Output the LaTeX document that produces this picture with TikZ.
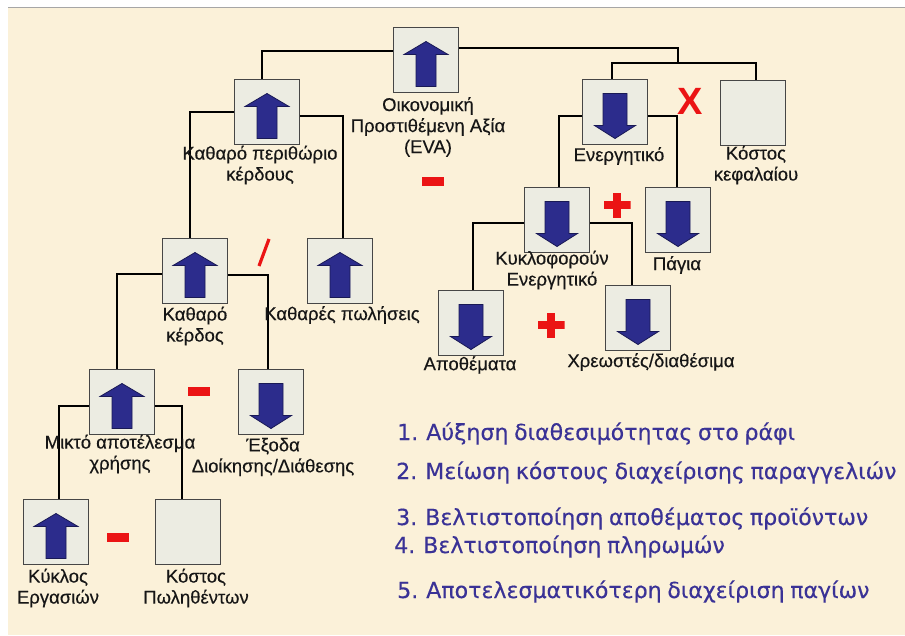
\documentclass[tikz,border=0pt]{standalone}
\usepackage{fontspec}
\setmainfont{Liberation Sans}[FakeBold=0.35]
\newfontfamily\listfont{DejaVu Sans}[FakeBold=0.35,WordSpace=0.8]
\newfontfamily\signfont{Liberation Sans Bold}
\usetikzlibrary{calc}

\definecolor{paper}{RGB}{251,241,217}
\definecolor{boxfill}{RGB}{236,236,226}
\definecolor{boxline}{RGB}{70,70,70}
\definecolor{arrowblue}{RGB}{44,44,140}
\definecolor{arrowedge}{RGB}{25,25,85}
\definecolor{signred}{RGB}{235,20,20}
\definecolor{listblue}{RGB}{58,50,150}
\definecolor{labelgray}{RGB}{22,22,22}

% block arrows drawn inside a card, relative to its centre
\newcommand\risearrow[1]{\path[arrowbody,shift={(#1.center)}]
  (0,-18.5) -- (22,-5.5) -- (10,-5.5) -- (10,26.5) -- (-10,26.5) -- (-10,-5.5) -- (-22,-5.5) -- cycle;}
\newcommand\fallarrow[1]{\path[arrowbody,shift={(#1.center)}]
  (0,26.5) -- (20.5,13.5) -- (12,13.5) -- (12,-18.5) -- (-12,-18.5) -- (-12,13.5) -- (-20.5,13.5) -- cycle;}

\begin{document}
\begin{tikzpicture}[x=1pt,y=-1pt,
  card/.style={draw=boxline,line width=1.3pt,fill=boxfill,minimum width=65pt,minimum height=65pt,inner sep=0pt},
  link/.style={line width=2.8pt,black},
  label/.style={font=\fontsize{18.5}{21}\selectfont,text=labelgray,align=center,inner sep=0pt},
  item/.style={font=\listfont\fontsize{22.1}{26}\selectfont,text=listblue,anchor=base west,inner sep=0pt},
  arrowbody/.style={fill=arrowblue,draw=arrowedge,line width=0.8pt,line join=miter},
  minus/.style={fill=signred,minimum width=22pt,minimum height=9pt,inner sep=0pt},
  plus/.style={minimum width=27pt,minimum height=25pt,inner sep=0pt,
    path picture={
      \fill[signred] ([yshift=4pt]path picture bounding box.west) rectangle ([yshift=-4pt]path picture bounding box.east);
      \fill[signred] ([xshift=-4pt]path picture bounding box.north) rectangle ([xshift=4pt]path picture bounding box.south);}},
  ]

\useasboundingbox (0,0) rectangle (905,635);
\fill[white] (0,0) rectangle (905,635);
\fill[paper] (8,8) rectangle (905,635);
\draw[gray!70,line width=1.2pt] (8,7.5) -- (905,7.5);

% cards
\node[card] (eva)     at (426,60)  {};
\node[card] (margin)  at (267,112) {};
\node[card] (assets)  at (615,112) {};
\node[card] (capcost) at (753,113) {};
\node[card] (current) at (557,220) {};
\node[card] (fixed)   at (678,220) {};
\node[card] (stock)   at (471,323) {};
\node[card] (debtors) at (638,318) {};
\node[card] (profit)  at (195,271) {};
\node[card] (sales)   at (340,271) {};
\node[card] (gross)   at (122,402) {};
\node[card] (admin)   at (271,402) {};
\node[card] (turnover) at (56,532) {};
\node[card] (cogs)    at (188,532) {};

% arrows
\risearrow{eva}
\risearrow{margin}
\fallarrow{assets}
\fallarrow{current}
\fallarrow{fixed}
\fallarrow{stock}
\fallarrow{debtors}
\risearrow{profit}
\risearrow{sales}
\risearrow{gross}
\fallarrow{admin}
\risearrow{turnover}

% connectors
\coordinate (split) at (678,63);
\draw[link] ([yshift=9pt]eva.west) -| ([xshift=-5pt]margin.north);
\draw[link] ([yshift=12pt]eva.east) -| (split);
\draw[link] ([xshift=-3pt]assets.north) |- (split) -| ([xshift=3pt]capcost.north);
\draw[link] (margin.west) -| ([xshift=-5pt]profit.north);
\draw[link] ([yshift=-4pt]margin.east) -| ([xshift=3pt]sales.north);
\draw[link] ([yshift=-4pt]assets.west) -| ([xshift=2pt]current.north);
\draw[link] ([yshift=-4pt]assets.east) -| ([xshift=-1pt]fixed.north);
\draw[link] ([yshift=-3pt]current.west) -| ([xshift=2pt]stock.north);
\draw[link] ([yshift=-3pt]current.east) -| ([xshift=-6pt]debtors.north);
\draw[link] ([yshift=-3pt]profit.west) -| ([xshift=-5pt]gross.north);
\draw[link] ([yshift=-4pt]profit.east) -| ([xshift=-3pt]admin.north);
\draw[link] ([yshift=-4pt]gross.west) -| ([xshift=3pt]turnover.north);
\draw[link] ([yshift=-4pt]gross.east) -| ([xshift=-6pt]cogs.north);

% labels
\node[label] (evaL)     at (428,127) {Οικονομική\\Προστιθέμενη Αξία\\(EVA)};
\node[label] (marginL)  at (260,165) {Καθαρό περιθώριο\\κέρδους};
\node[label] (assetsL)  at (619,156) {Ενεργητικό};
\node[label] (capcostL) at (756,165) {Κόστος\\κεφαλαίου};
\node[label] (currentL) at (552,270) {Κυκλοφορούν\\Ενεργητικό};
\node[label] (fixedL)   at (677,265) {Πάγια};
\node[label] (stockL)   at (470,365) {Αποθέματα};
\node[label] (debtorsL) at (651,362) {Χρεωστές/διαθέσιμα};
\node[label] (profitL)  at (195,326) {Καθαρό\\κέρδος};
\node[label] (salesL)   at (342,315) {Καθαρές πωλήσεις};
\node[label] (grossL)   at (120,454) {Μικτό αποτέλεσμα\\χρήσης};
\node[label] (adminL)   at (273,457) {Έξοδα\\Διοίκησης/Διάθεσης};
\node[label] (turnoverL) at (58,588) {Κύκλος\\Εργασιών};
\node[label] (cogsL)    at (196,588) {Κόστος\\Πωληθέντων};

% operators
\node[minus] (evaminus) at (433,181) {};
\node[font=\signfont\fontsize{38}{38}\selectfont,text=signred,inner sep=0pt] (times) at (690,101) {X};
\node[plus] (plusA) at (617,205) {};
\node[plus] (plusB) at (551,325) {};
\coordinate (slashA) at (259,266);
\coordinate (slashB) at (269,239);
\draw[signred,line width=3.2pt] (slashA) -- (slashB);
\node[minus] (grossminus) at (199,391) {};
\node[minus] (turnminus) at (118,537) {};

% list of actions
\node[item] (i1) at (397,440) {1. Αύξηση διαθεσιμότητας στο ράφι};
\node[item] (i2) at (396,479) {2. Μείωση κόστους διαχείρισης παραγγελιών};
\node[item] (i3) at (396,525) {3. Βελτιστοποίηση αποθέματος προϊόντων};
\node[item] (i4) at (394,553) {4. Βελτιστοποίηση πληρωμών};
\node[item] (i5) at (397,598) {5. Αποτελεσματικότερη διαχείριση παγίων};
\end{tikzpicture}
\end{document}
